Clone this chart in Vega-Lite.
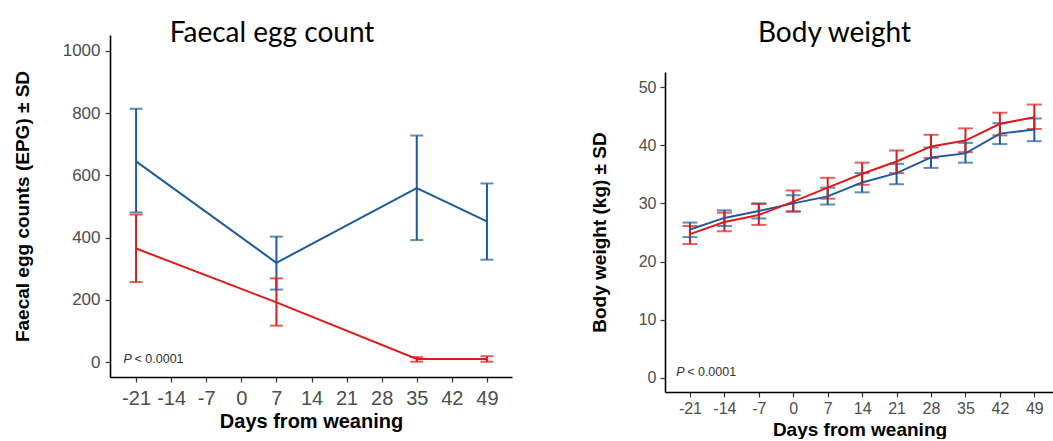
{
  "$schema": "https://vega.github.io/schema/vega-lite/v6.json",
  "padding": {"left": 13, "top": 20, "right": 0, "bottom": 0},
  "background": "white",
  "config": {
    "view": {"stroke": null},
    "axis": {"domainColor": "black", "domainWidth": 1.6, "tickColor": "#333333", "tickSize": 5, "tickWidth": 1.2, "labelColor": "#4d4d4d", "labelFont": "Liberation Sans", "titleFont": "Liberation Sans", "titleFontWeight": "bold", "titleColor": "black", "grid": false, "labelFlush": false, "labelExpr": "datum.value + ''"}
  },
  "datasets": {
    "fec": [
      {"day": -21, "group": "Group 1", "mean": 645, "lo": 481, "hi": 814},
      {"day": 7, "group": "Group 1", "mean": 319, "lo": 233, "hi": 403},
      {"day": 35, "group": "Group 1", "mean": 559, "lo": 392, "hi": 728},
      {"day": 49, "group": "Group 1", "mean": 452, "lo": 329, "hi": 574},
      {"day": -21, "group": "Group 2", "mean": 365, "lo": 257, "hi": 474},
      {"day": 7, "group": "Group 2", "mean": 192, "lo": 117, "hi": 269},
      {"day": 35, "group": "Group 2", "mean": 10, "lo": 1, "hi": 16},
      {"day": 49, "group": "Group 2", "mean": 10, "lo": 1, "hi": 19}
    ],
    "bw": [
      {"day": -21, "group": "Group 1", "mean": 25.5, "lo": 24.2, "hi": 26.7},
      {"day": -14, "group": "Group 1", "mean": 27.5, "lo": 26.1, "hi": 28.8},
      {"day": -7, "group": "Group 1", "mean": 28.7, "lo": 27.4, "hi": 30.0},
      {"day": 0, "group": "Group 1", "mean": 30.0, "lo": 28.6, "hi": 31.4},
      {"day": 7, "group": "Group 1", "mean": 31.2, "lo": 29.8, "hi": 32.7},
      {"day": 14, "group": "Group 1", "mean": 33.6, "lo": 31.9, "hi": 35.2},
      {"day": 21, "group": "Group 1", "mean": 35.2, "lo": 33.3, "hi": 36.8},
      {"day": 28, "group": "Group 1", "mean": 37.9, "lo": 36.1, "hi": 39.6},
      {"day": 35, "group": "Group 1", "mean": 38.6, "lo": 37.0, "hi": 40.4},
      {"day": 42, "group": "Group 1", "mean": 42.0, "lo": 40.2, "hi": 43.8},
      {"day": 49, "group": "Group 1", "mean": 42.7, "lo": 40.7, "hi": 44.6},
      {"day": -21, "group": "Group 2", "mean": 24.7, "lo": 23.0, "hi": 26.1},
      {"day": -14, "group": "Group 2", "mean": 26.8, "lo": 25.2, "hi": 28.4},
      {"day": -7, "group": "Group 2", "mean": 28.0, "lo": 26.3, "hi": 29.9},
      {"day": 0, "group": "Group 2", "mean": 30.3, "lo": 28.6, "hi": 32.2},
      {"day": 7, "group": "Group 2", "mean": 32.7, "lo": 30.8, "hi": 34.4},
      {"day": 14, "group": "Group 2", "mean": 35.1, "lo": 33.2, "hi": 37.0},
      {"day": 21, "group": "Group 2", "mean": 37.2, "lo": 35.2, "hi": 39.1},
      {"day": 28, "group": "Group 2", "mean": 39.8, "lo": 37.8, "hi": 41.8},
      {"day": 35, "group": "Group 2", "mean": 40.8, "lo": 38.8, "hi": 42.9},
      {"day": 42, "group": "Group 2", "mean": 43.7, "lo": 41.7, "hi": 45.6},
      {"day": 49, "group": "Group 2", "mean": 44.8, "lo": 42.8, "hi": 47.0}
    ]
  },
  "hconcat": [
    {
      "width": 402,
      "height": 342,
      "title": {"text": "Faecal egg count", "font": "Lato", "fontSize": 28, "fontWeight": 400, "color": "black", "anchor": "middle", "frame": "group", "baseline": "alphabetic", "offset": -35, "dx": -39},
      "data": {"name": "fec"},
      "encoding": {
        "x": {"field": "day", "type": "quantitative", "scale": {"domain": [-26.2, 54], "nice": false, "zero": false},
              "axis": {"values": [-21, -14, -7, 0, 7, 14, 21, 28, 35, 42, 49], "title": "Days from weaning", "labelFontSize": 20, "titleFontSize": 20, "labelPadding": 6, "titlePadding": 3}},
        "color": {"field": "group", "type": "nominal", "scale": {"domain": ["Group 1", "Group 2"], "range": ["#1F5A9A", "#DD1A1A"]}, "legend": null}
      },
      "layer": [
        {
          "data": {"values": [{}]},
          "mark": {"type": "rule", "strokeDash": [1.5, 3], "strokeWidth": 1.6},
          "encoding": {"x": {"datum": 0, "type": "quantitative"}, "color": {"value": "black"}}
        },
        {
          "mark": {"type": "rule", "strokeWidth": 2},
          "encoding": {
            "y": {"field": "lo", "type": "quantitative", "scale": {"domain": [-48, 1051], "nice": false, "zero": false},
                  "axis": {"values": [0, 200, 400, 600, 800, 1000], "title": "Faecal egg counts (EPG) ± SD", "labelFontSize": 17, "titleFontSize": 19, "labelPadding": 5, "titlePadding": 30}},
            "y2": {"field": "hi"}
          }
        },
        {
          "mark": {"type": "tick", "orient": "horizontal", "size": 13, "thickness": 2},
          "encoding": {"y": {"field": "lo", "type": "quantitative"}}
        },
        {
          "mark": {"type": "tick", "orient": "horizontal", "size": 13, "thickness": 2},
          "encoding": {"y": {"field": "hi", "type": "quantitative"}}
        },
        {
          "mark": {"type": "line", "strokeWidth": 2},
          "encoding": {"y": {"field": "mean", "type": "quantitative"}}
        },
        {
          "data": {"values": [{"day": -23.5, "mean": 10}]},
          "mark": {"type": "text", "text": "P", "fontStyle": "italic", "font": "Liberation Sans", "fontSize": 12.5, "align": "left", "baseline": "middle"},
          "encoding": {"y": {"field": "mean", "type": "quantitative"}, "color": {"value": "#333333"}}
        },
        {
          "data": {"values": [{"day": -23.5, "mean": 10}]},
          "mark": {"type": "text", "text": "< 0.0001", "font": "Liberation Sans", "fontSize": 12.5, "align": "left", "baseline": "middle", "dx": 11},
          "encoding": {"y": {"field": "mean", "type": "quantitative"}, "color": {"value": "#333333"}}
        }
      ]
    },
    {
      "spacing": 0,
      "vconcat": [
        {
          "width": 389,
          "height": 37,
          "title": {"text": "Body weight", "font": "Lato", "fontSize": 28, "fontWeight": 400, "color": "black", "anchor": "middle", "frame": "group", "baseline": "alphabetic", "offset": -35, "dx": -25},
          "data": {"values": []},
          "mark": "point",
          "encoding": {}
        },
        {
          "width": 389,
          "height": 320,
          "data": {"name": "bw"},
          "encoding": {
            "x": {"field": "day", "type": "quantitative", "scale": {"domain": [-26.07, 53], "nice": false, "zero": false},
                  "axis": {"values": [-21, -14, -7, 0, 7, 14, 21, 28, 35, 42, 49], "title": "Days from weaning", "labelFontSize": 16, "titleFontSize": 19, "labelPadding": 3, "titlePadding": 4}},
            "color": {"field": "group", "type": "nominal", "scale": {"domain": ["Group 1", "Group 2"], "range": ["#1F5A9A", "#DD1A1A"]}, "legend": null}
          },
          "layer": [
            {
              "data": {"values": [{}]},
              "mark": {"type": "rule", "strokeWidth": 1.2, "strokeDash": [2, 1]},
              "encoding": {"x": {"datum": 0, "type": "quantitative"}, "color": {"value": "#dddddd"}}
            },
            {
              "mark": {"type": "rule", "strokeWidth": 2},
              "encoding": {
                "y": {"field": "lo", "type": "quantitative", "scale": {"domain": [-2.45, 52.6], "nice": false, "zero": false},
                      "axis": {"values": [0, 10, 20, 30, 40, 50], "title": "Body weight (kg) ± SD", "labelFontSize": 16, "titleFontSize": 19, "labelPadding": 4, "titlePadding": 29}},
                "y2": {"field": "hi"}
              }
            },
            {
              "mark": {"type": "tick", "orient": "horizontal", "size": 15, "thickness": 2},
              "encoding": {"y": {"field": "lo", "type": "quantitative"}}
            },
            {
              "mark": {"type": "tick", "orient": "horizontal", "size": 15, "thickness": 2},
              "encoding": {"y": {"field": "hi", "type": "quantitative"}}
            },
            {
              "mark": {"type": "line", "strokeWidth": 2},
              "encoding": {"y": {"field": "mean", "type": "quantitative"}}
            },
            {
              "data": {"values": [{"day": -23.8, "mean": 1.0}]},
              "mark": {"type": "text", "text": "P", "fontStyle": "italic", "font": "Liberation Sans", "fontSize": 12.5, "align": "left", "baseline": "middle"},
              "encoding": {"y": {"field": "mean", "type": "quantitative"}, "color": {"value": "#333333"}}
            },
            {
              "data": {"values": [{"day": -23.8, "mean": 1.0}]},
              "mark": {"type": "text", "text": "< 0.0001", "font": "Liberation Sans", "fontSize": 12.5, "align": "left", "baseline": "middle", "dx": 11},
              "encoding": {"y": {"field": "mean", "type": "quantitative"}, "color": {"value": "#333333"}}
            }
          ]
        }
      ]
    }
  ],
  "spacing": 78
}
